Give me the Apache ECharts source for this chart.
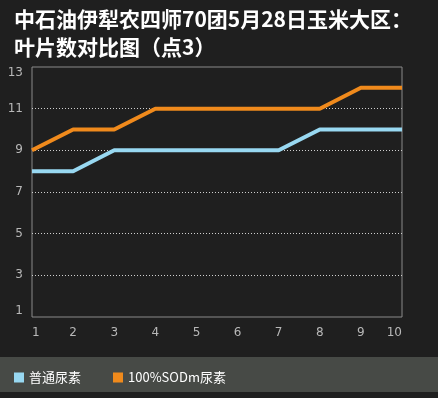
<!DOCTYPE html>
<html>
<head>
<meta charset="utf-8">
<script src="https://cdn.jsdelivr.net/npm/echarts@6/dist/echarts.min.js"></script>
<style>
  html, body { margin: 0; padding: 0; background: #1f1f1f; }
  #chart { width: 438px; height: 398px; }
</style>
</head>
<body>
<div id="chart"></div>
<script>
// data
const titleLines = ['中石油伊犁农四师70团5月28日玉米大区：', '叶片数对比图（点3）']
const categories = ['1', '2', '3', '4', '5', '6', '7', '8', '9', '10']
const seriesNames = ['普通尿素', '100%SODm尿素']
const normalUrea = [8, 8, 9, 9, 9, 9, 9, 10, 10, 10]
const sodmUrea = [9, 10, 10, 11, 11, 11, 11, 11, 12, 12]
const yTicks = [1, 3, 5, 7, 9, 11, 13]

const colors = ['#98d8f1', '#f08a1c']

const chart = echarts.init(document.getElementById('chart'))

const option = {
  backgroundColor: '#1f1f1f',
  animation: false,
  color: colors,
  title: {
    text: titleLines.join('\n'),
    left: 9,
    top: 0,
    textStyle: {
      color: '#ffffff',
      fontSize: 21,
      fontWeight: 'bold',
      fontFamily: '"Noto Sans CJK SC", sans-serif',
      lineHeight: 28
    }
  },
  graphic: [{
    type: 'rect',
    left: 0,
    top: 357,
    shape: { width: 438, height: 35 },
    style: { fill: '#474a46' },
    z: -1
  }],
  legend: {
    data: seriesNames,
    left: 9,
    top: 366,
    icon: 'rect',
    itemWidth: 10,
    itemHeight: 10,
    itemGap: 32,
    textStyle: {
      color: '#ffffff',
      fontSize: 13,
      fontFamily: '"Noto Sans CJK SC", sans-serif'
    }
  },
  grid: {
    left: 32,
    right: 36,
    top: 67,
    bottom: 81,
    show: true,
    borderColor: '#8a8a8a',
    borderWidth: 1
  },
  xAxis: {
    type: 'category',
    data: categories,
    boundaryGap: false,
    axisLine: { show: false },
    axisTick: { show: false },
    splitLine: { show: false },
    axisLabel: {
      color: '#b8b8b8',
      fontSize: 12,
      fontFamily: 'DejaVu Sans',
      margin: 10,
      alignMinLabel: 'left',
      alignMaxLabel: 'right'
    }
  },
  yAxis: {
    type: 'value',
    min: yTicks[0],
    max: yTicks[yTicks.length - 1],
    interval: 2,
    axisLine: { show: false },
    axisTick: { show: false },
    axisLabel: {
      color: '#b8b8b8',
      fontSize: 12,
      fontFamily: 'DejaVu Sans',
      margin: 9,
      verticalAlignMinLabel: 'bottom',
      verticalAlignMaxLabel: 'top'
    },
    splitLine: {
      show: true,
      showMinLine: false,
      showMaxLine: false,
      lineStyle: { color: '#d0d0d0', type: [1, 2], width: 1 }
    }
  },
  series: [
    {
      name: seriesNames[0],
      type: 'line',
      data: normalUrea,
      symbol: 'none',
      lineStyle: { width: 4, color: colors[0] }
    },
    {
      name: seriesNames[1],
      type: 'line',
      data: sodmUrea,
      symbol: 'none',
      lineStyle: { width: 4, color: colors[1] }
    }
  ]
}

chart.setOption(option)
</script>
</body>
</html>
